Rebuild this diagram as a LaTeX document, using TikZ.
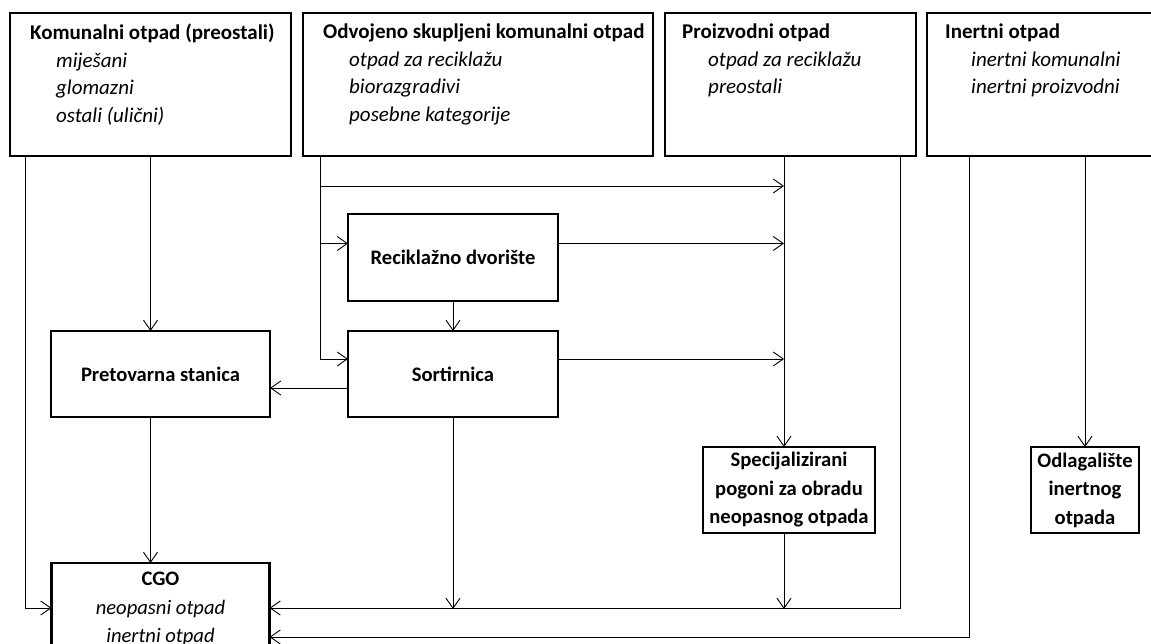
\documentclass[tikz,border=0pt]{standalone}
\usepackage{fontspec}
\setmainfont{Carlito}
\usetikzlibrary{arrows.meta,positioning}

\begin{document}
\begin{tikzpicture}[x=1pt,y=-1pt,>={Straight Barb[length=10pt,width=14pt]},
		font=\fontsize{20.6}{28}\selectfont,
		okvir/.style={draw,line width=2.6pt,inner sep=0pt,outer sep=0pt,font=\fontsize{20.6}{28.5}\selectfont\bfseries},
		tekst/.style={anchor=north west,align=left,inner sep=0pt,font=\fontsize{21}{27.5}\selectfont},
		veza/.style={->,line width=0.9pt}]
	\def\uvl{\hspace*{26pt}}
	\useasboundingbox (0,0) rectangle (1151,644);
	% izvori otpada
	\node[okvir,anchor=north west,minimum width=281pt,minimum height=143pt] (kom) at (10,13) {};
	\node[okvir,anchor=north west,minimum width=350pt,minimum height=143pt] (odv) at (303,13) {};
	\node[okvir,anchor=north west,minimum width=251pt,minimum height=143pt] (pro) at (665,13) {};
	\node[okvir,anchor=north west,minimum width=240pt,minimum height=143pt] (ine) at (927,13) {};
	\node[tekst] (komtxt) at ([xshift=20pt,yshift=-11pt]kom.north west) {\textbf{Komunalni otpad (preostali)}\\
		\uvl\textit{miješani}\\ \uvl\textit{glomazni}\\ \uvl\textit{ostali (ulični)}};
	\node[tekst] (odvtxt) at ([xshift=20pt,yshift=-11pt]odv.north west) {\textbf{Odvojeno skupljeni komunalni otpad}\\
		\uvl\textit{otpad za reciklažu}\\ \uvl\textit{biorazgradivi}\\ \uvl\textit{posebne kategorije}};
	\node[tekst] (protxt) at ([xshift=17pt,yshift=-11pt]pro.north west) {\textbf{Proizvodni otpad}\\
		\uvl\textit{otpad za reciklažu}\\ \uvl\textit{preostali}};
	\node[tekst] (inetxt) at ([xshift=18pt,yshift=-11pt]ine.north west) {\textbf{Inertni otpad}\\
		\uvl\textit{inertni komunalni}\\ \uvl\textit{inertni proizvodni}};
	% obrada
	\node[okvir,anchor=north west,minimum width=210pt,minimum height=87pt] (rec) at (348,214) {Reciklažno dvorište};
	\node[okvir,minimum width=210pt,minimum height=86pt,below=30pt of rec] (sort) {Sortirnica};
	\node[okvir,minimum width=219pt,minimum height=86pt,left=78pt of sort] (pret) {Pretovarna stanica};
	\node[okvir,align=center,anchor=north west,minimum width=172pt,minimum height=86pt] (spec) at (703,447) {Specijalizirani\\ pogoni za obradu\\ neopasnog otpada};
	\node[okvir,align=center,anchor=north west,minimum width=108pt,minimum height=86pt] (odl) at (1031,447) {Odlagalište\\ inertnog\\ otpada};
	\node[okvir,align=center,minimum width=218pt,minimum height=92pt,below=146pt of pret] (cgo) {CGO\\ \normalfont\itshape neopasni otpad\\ \normalfont\itshape inertni otpad};
	% tokovi
	\coordinate (komL) at ([xshift=15pt]kom.south west);
	\coordinate (odvL) at ([xshift=17pt]odv.south west);
	\coordinate (proL) at ([xshift=119pt]pro.south west);
	\coordinate (proR) at ([xshift=-16pt]pro.south east);
	\coordinate (ineL) at ([xshift=42pt]ine.south west);
	\draw[veza] (komL) |- ([yshift=1pt]cgo.west);
	\draw[veza] (kom.south) -- (kom.south |- pret.north);
	\draw[veza] (pret.south -| kom.south) -- (cgo.north -| kom.south);
	\draw[veza] ([yshift=-30pt]odvL) -- ([yshift=-30pt]odvL -| proL);
	\draw[veza] (odvL) |- ([yshift=14pt]rec.west);
	\draw[veza] (odvL) |- ([yshift=15pt]sort.west);
	\draw[veza] ([yshift=14pt]rec.east) -- ([yshift=14pt]rec.east -| proL);
	\draw[veza] ([yshift=15pt]sort.east) -- ([yshift=15pt]sort.east -| proL);
	\draw[veza] (rec.south) -- (sort.north);
	\draw[veza] ([yshift=-14pt]sort.west) -- ([yshift=-14pt]sort.west -| pret.east);
	\draw[veza] (sort.south) -- (sort.south |- cgo.east);
	\draw[veza] (proL) -- (proL |- spec.north);
	\draw[veza] (proL |- spec.south) -- (proL |- cgo.east);
	\draw[veza] (proR) |- ([yshift=1pt]cgo.east);
	\draw[veza] (ineL) |- ([yshift=-28pt]cgo.east);
	\draw[veza] (odl.north |- ine.south) -- (odl.north);
\end{tikzpicture}
\end{document}
